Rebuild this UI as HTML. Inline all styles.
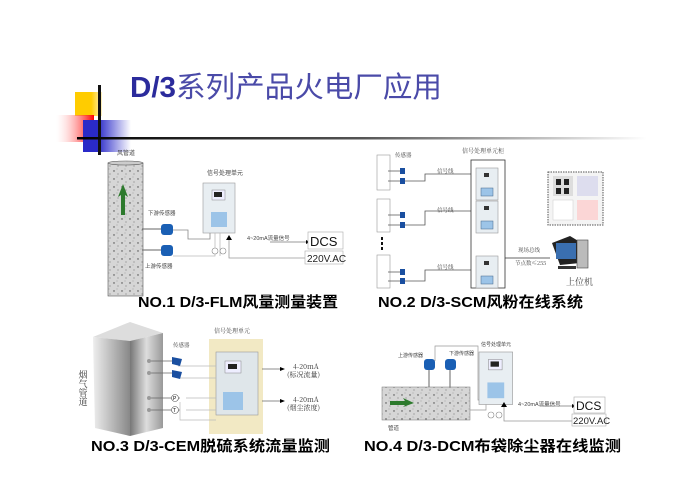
<!DOCTYPE html>
<html><head><meta charset="utf-8"><style>
html,body{margin:0;padding:0;background:#fff;width:692px;height:488px;overflow:hidden}
svg{display:block}
text{font-family:"Liberation Sans","Noto Sans CJK SC",sans-serif}
.s{font-family:"Noto Serif CJK SC","Noto Sans CJK SC",serif}
.cap{font-weight:bold;font-size:15px;fill:#000}
</style></head><body>
<svg width="692" height="488" viewBox="0 0 692 488" xmlns="http://www.w3.org/2000/svg">
<defs>
<linearGradient id="hl" x1="0" x2="1"><stop offset="0" stop-color="#000"/><stop offset="0.5" stop-color="#555"/><stop offset="1" stop-color="#fff"/></linearGradient>
<linearGradient id="rd" x1="1" x2="0"><stop offset="0" stop-color="#f00"/><stop offset="1" stop-color="#fff" stop-opacity="0.2"/></linearGradient>
<linearGradient id="bl" x1="0" x2="1"><stop offset="0.3" stop-color="#2a2ac8"/><stop offset="1" stop-color="#fff"/></linearGradient>
<linearGradient id="yl" x1="0" x2="1"><stop offset="0.6" stop-color="#ffcc00"/><stop offset="1" stop-color="#fff2c0"/></linearGradient>
<pattern id="dots" width="8" height="8" patternUnits="userSpaceOnUse"><rect width="8" height="8" fill="#d6d6d6"/><circle cx="2" cy="3" r="0.7" fill="#444"/><circle cx="6" cy="6" r="0.5" fill="#555"/><circle cx="5" cy="1" r="0.4" fill="#666"/></pattern>
<linearGradient id="lf" x1="0" x2="1"><stop offset="0" stop-color="#eee"/><stop offset="1" stop-color="#888"/></linearGradient>
<linearGradient id="rf" x1="0" x2="1"><stop offset="0" stop-color="#777"/><stop offset="0.5" stop-color="#ddd"/><stop offset="1" stop-color="#999"/></linearGradient>
<g id="box"><rect x="0" y="0" width="32" height="50" fill="#e8eef2" stroke="#999" stroke-width="0.6"/><rect x="9" y="7" width="13" height="10" fill="#eef" stroke="#888" stroke-width="0.5"/><rect x="11" y="9" width="8" height="5" fill="#222"/><rect x="8" y="29" width="16" height="15" fill="#9cc4e8"/></g>
<g id="sm"><rect x="0" y="0" width="22" height="32" fill="#e8eef2" stroke="#999" stroke-width="0.6"/><rect x="8" y="5" width="5" height="4" fill="#333"/><rect x="5" y="20" width="12" height="8" fill="#9cc4e8" stroke="#468" stroke-width="0.5"/></g>
</defs>

<!-- header decoration -->
<rect x="75" y="92" width="27" height="24" fill="url(#yl)"/>
<rect x="56" y="115" width="38" height="27" fill="url(#rd)"/>
<rect x="83" y="120" width="48" height="32" fill="url(#bl)"/>
<rect x="98" y="85" width="3" height="70" fill="#111"/>
<rect x="77" y="137" width="570" height="2.5" fill="url(#hl)"/>
<text x="130" y="97" font-size="29" fill="#4a4aa8" textLength="312" lengthAdjust="spacingAndGlyphs"><tspan fill="#2b2b9c" font-weight="bold">D/3</tspan>系列产品火电厂应用</text>

<!-- Panel 1 -->
<rect x="108" y="163" width="35" height="133" fill="url(#dots)" stroke="#555" stroke-width="0.6"/>
<ellipse cx="125.5" cy="163" rx="17.5" ry="2" fill="#ccc" stroke="#555" stroke-width="0.6"/>
<path d="M121 215 L121 195 L118 197 L123 184 L128 197 L125 195 L125 215Z" fill="#2d7a2d"/>
<text x="117" y="155" font-size="6" fill="#444">风管道</text>
<text x="207" y="175" font-size="6" fill="#444">信号处理单元</text>
<use href="#box" x="203" y="183"/>
<text x="148" y="215" font-size="5.5" fill="#444">下游传感器</text>
<text x="145" y="268" font-size="5.5" fill="#444">上游传感器</text>
<line x1="142" y1="229" x2="162" y2="229" stroke="#666"/>
<line x1="142" y1="250" x2="162" y2="250" stroke="#666"/>
<rect x="161" y="224" width="12" height="11" rx="3" fill="#1a5fb4"/>
<rect x="161" y="245" width="12" height="11" rx="3" fill="#1a5fb4"/>
<path d="M173 230 H188 V239 H210 V233" fill="none" stroke="#888" stroke-width="0.8"/>
<path d="M173 256 H215 V233 M220 233 V256" fill="none" stroke="#bbb" stroke-width="0.8"/>
<circle cx="215" cy="251" r="3" fill="#fff" stroke="#888" stroke-width="0.6"/>
<circle cx="223" cy="251" r="3" fill="#fff" stroke="#888" stroke-width="0.6"/>
<path d="M229 237 V258 H305" fill="none" stroke="#999" stroke-width="0.8"/>
<path d="M226 240 L229 235 L232 240Z" fill="#000"/>
<text x="247" y="240" font-size="5.5" fill="#444">4~20mA流量信号</text>
<line x1="270" y1="242" x2="306" y2="242" stroke="#777" stroke-width="0.8"/>
<path d="M306 240 L310 242 L306 244Z" fill="#000"/>
<rect x="308" y="232" width="35" height="17" fill="#fff" stroke="#aaa" stroke-width="0.6"/>
<text x="310" y="246" font-size="13" fill="#111">DCS</text>
<rect x="305" y="251" width="38" height="13" fill="#fff" stroke="#aaa" stroke-width="0.6"/>
<text x="307" y="262" font-size="10" fill="#222">220V.AC</text>
<text x="138" y="307" class="cap" textLength="200" lengthAdjust="spacingAndGlyphs">NO.1 D/3-FLM风量测量装置</text>

<!-- Panel 2 -->
<g fill="#fff" stroke="#999" stroke-width="0.6">
<rect x="377" y="155" width="13" height="35"/><rect x="377" y="199" width="13" height="33"/><rect x="377" y="255" width="13" height="33"/>
</g>
<g stroke="#555" stroke-width="0.8" fill="none">
<path d="M388 171 H400 M388 181 H400 M404 181 H425 V174 H471"/>
<path d="M388 215 H400 M388 225 H400 M404 225 H425 V211 H471"/>
<path d="M388 272 H400 M388 281 H400 M404 281 H425 V270 H471"/>
</g>
<g fill="#1a4fa0"><rect x="400" y="168" width="5" height="6"/><rect x="400" y="178" width="5" height="6"/><rect x="400" y="212" width="5" height="6"/><rect x="400" y="222" width="5" height="6"/><rect x="400" y="269" width="5" height="6"/><rect x="400" y="278" width="5" height="6"/></g>
<g fill="#111"><rect x="381" y="237" width="2" height="3"/><rect x="381" y="242" width="2" height="3"/><rect x="381" y="247" width="2" height="3"/><rect x="480" y="235" width="2" height="3"/><rect x="480" y="240" width="2" height="3"/><rect x="480" y="245" width="2" height="3"/></g>
<text x="395" y="157" font-size="5.5" class="s" fill="#444">传感器</text>
<text x="462" y="153" font-size="6" class="s" fill="#444">信号处理单元柜</text>
<text x="437" y="173" font-size="5.5" class="s" fill="#444">信号线</text>
<text x="437" y="212" font-size="5.5" class="s" fill="#444">信号线</text>
<text x="437" y="269" font-size="5.5" class="s" fill="#444">信号线</text>
<rect x="471" y="160" width="34" height="128" fill="#fff" stroke="#333" stroke-width="0.8"/>
<use href="#sm" x="476" y="168"/><use href="#sm" x="476" y="201"/><use href="#sm" x="476" y="256"/>
<line x1="505" y1="258" x2="550" y2="258" stroke="#333" stroke-width="0.8"/>
<text x="518" y="252" font-size="5.5" class="s" fill="#444">现场总线</text>
<text x="515" y="265" font-size="5.5" class="s" fill="#444">节点数≤255</text>
<rect x="548" y="172" width="55" height="53" fill="#f4f4f4" stroke="#555" stroke-width="1" stroke-dasharray="1.5,1"/>
<rect x="553" y="176" width="20" height="20" fill="#ddd"/><rect x="556" y="179" width="5" height="6" fill="#222"/><rect x="564" y="179" width="5" height="6" fill="#222"/><rect x="556" y="188" width="5" height="6" fill="#222"/><rect x="564" y="188" width="5" height="6" fill="#222"/>
<rect x="577" y="176" width="21" height="20" fill="#dde"/><rect x="553" y="200" width="20" height="20" fill="#fff" stroke="#ccc" stroke-width="0.5"/><rect x="577" y="200" width="21" height="20" fill="#fbd6d6"/>
<path d="M552 243 L570 236 L580 242 V263 L560 265 Z" fill="#222"/>
<rect x="556" y="243" width="20" height="16" fill="#3a6fb0"/>
<rect x="577" y="240" width="11" height="28" fill="#bbb" stroke="#444" stroke-width="0.6"/>
<rect x="558" y="266" width="18" height="3" fill="#333"/>
<text x="566" y="285" font-size="9" class="s" fill="#444">上位机</text>
<text x="378" y="307" class="cap" textLength="205" lengthAdjust="spacingAndGlyphs">NO.2 D/3-SCM风粉在线系统</text>

<!-- Panel 3 -->
<path d="M93 337 L130 322 L163 333 L130 341Z" fill="#ddd"/>
<path d="M93 337 L130 341 L130 436 L95 428Z" fill="url(#lf)"/>
<path d="M130 341 L163 333 L163 428 L130 436Z" fill="url(#rf)"/>
<text x="83" y="370" font-size="9" class="s" fill="#333" writing-mode="tb">烟气管道</text>
<rect x="209" y="339" width="54" height="95" fill="#f2e9c4"/>
<text x="214" y="333" font-size="6" class="s" fill="#444">信号处理单元</text>
<rect x="216" y="352" width="42" height="63" fill="#dfe6ea" stroke="#999" stroke-width="0.6"/>
<rect x="225" y="361" width="16" height="12" fill="#eef" stroke="#888" stroke-width="0.5"/><rect x="228" y="364" width="9" height="5" fill="#222"/>
<rect x="223" y="392" width="20" height="18" fill="#9cc4e8"/>
<text x="173" y="347" font-size="5.5" class="s" fill="#444">传感器</text>
<g stroke="#666" stroke-width="0.8" fill="none">
<path d="M150 361 H172"/><path d="M150 373 H172"/>
<path d="M150 398 H180"/><path d="M150 410 H180"/>
<path d="M262 369 H280"/><path d="M262 401 H280"/>
</g>
<g stroke="#bbb" stroke-width="0.7" fill="none"><path d="M178 366 H216 M178 378 H216 M186 398 H216 M186 410 H216 M180 402 V420 H216"/></g>
<path d="M172 357 L182 359 L180 366 L172 364Z" fill="#1a4fa0"/><path d="M172 370 L182 372 L180 379 L172 377Z" fill="#1a4fa0"/>
<circle cx="149" cy="361" r="2" fill="#999"/><circle cx="149" cy="373" r="2" fill="#999"/><circle cx="149" cy="398" r="2" fill="#999"/><circle cx="149" cy="410" r="2" fill="#999"/>
<circle cx="175" cy="398" r="3.5" fill="#fff" stroke="#555" stroke-width="0.6"/><text x="173" y="400" font-size="5">P</text>
<circle cx="175" cy="410" r="3.5" fill="#fff" stroke="#555" stroke-width="0.6"/><text x="173" y="412" font-size="5">T</text>
<path d="M280 367 L285 369 L280 371Z" fill="#000"/><path d="M280 399 L285 401 L280 403Z" fill="#000"/>
<text x="293" y="369" font-size="7" class="s" fill="#333">4-20mA</text>
<text x="287" y="377" font-size="7" class="s" fill="#333">(标况流量)</text>
<text x="293" y="402" font-size="7" class="s" fill="#333">4-20mA</text>
<text x="287" y="410" font-size="7" class="s" fill="#333">(烟尘浓度)</text>
<text x="91" y="451" class="cap" textLength="239" lengthAdjust="spacingAndGlyphs">NO.3 D/3-CEM脱硫系统流量监测</text>

<!-- Panel 4 -->
<rect x="382" y="387" width="88" height="33" fill="url(#dots)" stroke="#777" stroke-width="0.5"/>
<path d="M390 401 H405 L403 398 L414 403 L403 407 L405 405 H390Z" fill="#2d7a2d"/>
<text x="388" y="430" font-size="5.5" fill="#444">管道</text>
<text x="398" y="357" font-size="5" fill="#444">上游传感器</text>
<text x="449" y="355" font-size="5" fill="#444">下游传感器</text>
<text x="481" y="346" font-size="5" fill="#444">信号处理单元</text>
<line x1="429" y1="370" x2="429" y2="387" stroke="#666"/><line x1="450" y1="370" x2="450" y2="387" stroke="#666"/>
<rect x="424" y="359" width="11" height="11" rx="3" fill="#1a5fb4"/><rect x="445" y="359" width="11" height="11" rx="3" fill="#1a5fb4"/>
<path d="M435 361 V346 H478 V400 H490" fill="none" stroke="#999" stroke-width="0.7"/>
<path d="M470 410 H486 V395" fill="none" stroke="#999" stroke-width="0.7"/>
<g transform="translate(479,352) scale(1.05)"><use href="#box"/></g>
<circle cx="491" cy="415" r="3" fill="#fff" stroke="#888" stroke-width="0.6"/><circle cx="499" cy="415" r="3" fill="#fff" stroke="#888" stroke-width="0.6"/>
<path d="M504 404 V421 H573" fill="none" stroke="#999" stroke-width="0.8"/>
<path d="M501 407 L504 402 L507 407Z" fill="#000"/>
<text x="518" y="406" font-size="5.5" fill="#444">4~20mA流量信号</text>
<line x1="540" y1="406" x2="572" y2="406" stroke="#777" stroke-width="0.8"/><path d="M572 404 L576 406 L572 408Z" fill="#000"/>
<rect x="574" y="397" width="31" height="16" fill="#fff" stroke="#aaa" stroke-width="0.6"/>
<text x="576" y="410" font-size="12" fill="#111">DCS</text>
<rect x="572" y="414" width="34" height="12" fill="#fff" stroke="#aaa" stroke-width="0.6"/>
<text x="573" y="424" font-size="9.5" fill="#222">220V.AC</text>
<text x="364" y="451" class="cap" textLength="257" lengthAdjust="spacingAndGlyphs">NO.4 D/3-DCM布袋除尘器在线监测</text>
</svg>
</body></html>
